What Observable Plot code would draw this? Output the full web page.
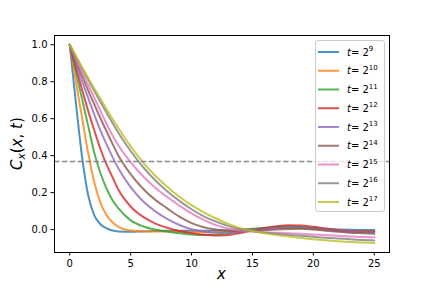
<!DOCTYPE html>
<html><head><meta charset="utf-8">
<script src="https://cdn.jsdelivr.net/npm/d3@7"></script>
<script src="https://cdn.jsdelivr.net/npm/@observablehq/plot@0.6"></script>
<style>body{margin:0;background:#fff} svg{font-family:"DejaVu Sans",sans-serif}</style>
</head><body><div id="chart"></div>
<script>
const xs = [0,0.5,1,1.5,2,2.5,3,3.5,4,5,6,7,8,9,10,11,12,13,14,15,16,17,18,19,20,21,22,23,24,25];
const exponents = [9,10,11,12,13,14,15,16,17];
const c9  = [1,0.69,0.4,0.19,0.08,0.03,0.008,-0.005,-0.01,-0.012,-0.01,-0.008,-0.006,-0.006,-0.006,-0.006,-0.005,-0.003,0.0,0.004,0.008,0.011,0.012,0.011,0.008,0.004,0.001,-0.001,-0.002,-0.002];
const c10 = [1,0.805,0.61,0.42,0.26,0.15,0.08,0.04,0.015,-0.005,-0.009,-0.01,-0.01,-0.012,-0.014,-0.015,-0.013,-0.008,-0.003,0.002,0.006,0.009,0.01,0.008,0.004,0.0,-0.004,-0.007,-0.009,-0.01];
const c11 = [1,0.855,0.71,0.565,0.42,0.31,0.225,0.16,0.115,0.05,0.018,0.0,-0.011,-0.02,-0.026,-0.029,-0.027,-0.02,-0.01,0.0,0.008,0.014,0.016,0.014,0.008,0.0,-0.006,-0.01,-0.011,-0.011];
const c12 = [1,0.88,0.76,0.645,0.54,0.44,0.355,0.285,0.215,0.125,0.07,0.034,0.01,-0.008,-0.02,-0.028,-0.032,-0.029,-0.018,-0.005,0.008,0.018,0.023,0.022,0.015,0.006,-0.002,-0.007,-0.01,-0.011];
const c13 = [1,0.9,0.805,0.715,0.625,0.54,0.465,0.395,0.33,0.23,0.155,0.1,0.058,0.025,0.002,-0.011,-0.016,-0.015,-0.01,-0.004,0.002,0.008,0.01,0.01,0.006,0.0,-0.006,-0.01,-0.013,-0.015];
const c14 = [1,0.915,0.835,0.755,0.68,0.605,0.535,0.465,0.4,0.3,0.222,0.162,0.115,0.07,0.035,0.013,0.0,-0.007,-0.009,-0.008,-0.004,0.0,0.003,0.004,0.0,-0.006,-0.012,-0.017,-0.02,-0.023];
const c15 = [1,0.927,0.855,0.785,0.715,0.645,0.575,0.51,0.455,0.365,0.29,0.228,0.176,0.13,0.088,0.052,0.024,0.006,-0.005,-0.01,-0.014,-0.017,-0.02,-0.022,-0.026,-0.03,-0.034,-0.037,-0.04,-0.042];
const c16 = [1,0.937,0.875,0.813,0.752,0.693,0.635,0.578,0.523,0.425,0.34,0.268,0.207,0.155,0.11,0.072,0.043,0.02,0.003,-0.009,-0.017,-0.023,-0.029,-0.034,-0.039,-0.044,-0.048,-0.052,-0.056,-0.059];
const c17 = [1,0.94,0.88,0.822,0.765,0.71,0.655,0.6,0.548,0.45,0.365,0.293,0.232,0.178,0.132,0.093,0.06,0.03,0.008,-0.008,-0.02,-0.03,-0.038,-0.045,-0.052,-0.058,-0.063,-0.067,-0.07,-0.072];
const series = [c9,c10,c11,c12,c13,c14,c15,c16,c17];
const colors = ["#1f77b4","#ff7f0e","#2ca02c","#d62728","#9467bd","#8c564b","#e377c2","#7f7f7f","#bcbd22"];
const xTicks = [0,5,10,15,20,25];
const yTicks = [0,0.2,0.4,0.6,0.8,1.0];
const threshold = [0.3679];

const data = series.flatMap((ys,i)=>ys.map((y,j)=>({x:xs[j], y, t:exponents[i]})));

const chart = Plot.plot({
  width:432, height:288,
  marginLeft:54, marginRight:43, marginTop:35, marginBottom:36,
  style:{fontFamily:"DejaVu Sans", fontSize:"10px", background:"white", color:"black"},
  x:{domain:[-1.25,26.25]},
  y:{domain:[-0.124,1.05]},
  color:{domain:exponents, range:colors},
  marks:[
    Plot.line(data,{x:"x", y:"y", z:"t", stroke:"t", strokeWidth:2, strokeOpacity:0.8, curve:"monotone-x"}),
    Plot.ruleY(threshold,{stroke:"gray", strokeWidth:1.5, strokeDasharray:"5.5,2.4", strokeOpacity:0.9}),
    Plot.frame({stroke:"black", strokeWidth:1}),
    Plot.axisX({ticks:xTicks, tickSize:3.5, tickPadding:3.5, label:null, tickFormat:d=>String(d), fontSize:10}),
    Plot.axisY({ticks:yTicks, tickSize:3.5, tickPadding:3.5, label:null, tickFormat:d=>d.toFixed(1), fontSize:10})
  ]
});
document.getElementById("chart").appendChild(chart);

const svg = d3.select(chart);
// axis labels
svg.append("text").attr("x",221.5).attr("y",279).attr("text-anchor","middle")
  .attr("font-size",15).attr("font-style","italic").attr("fill","black").text("x");
const yl = svg.append("text").attr("transform","translate(22,143.5) rotate(-90)")
  .attr("text-anchor","middle").attr("font-size",15).attr("fill","black");
yl.append("tspan").attr("font-style","italic").text("C");
yl.append("tspan").attr("font-style","italic").attr("font-size",10.5).attr("dy",3).text("x");
yl.append("tspan").attr("dy",-3).text("(");
yl.append("tspan").attr("font-style","italic").text("x");
yl.append("tspan").text(", ");
yl.append("tspan").attr("font-style","italic").text("t");
yl.append("tspan").text(")");

// legend
const lg = svg.append("g").attr("text-anchor","start");
lg.append("rect").attr("x",315.5).attr("y",40.5).attr("width",69).attr("height",171)
  .attr("rx",2.5).attr("fill","white").attr("fill-opacity",0.8).attr("stroke","#cccccc");
exponents.forEach((e,i)=>{
  const cy = 52 + i*18.75;
  lg.append("line").attr("x1",318).attr("x2",339).attr("y1",cy).attr("y2",cy)
    .attr("stroke",colors[i]).attr("stroke-width",2).attr("stroke-opacity",0.8);
  const t = lg.append("text").attr("x",347).attr("y",cy+3.5).attr("font-size",10)
    .attr("fill","black").attr("text-anchor","start");
  t.append("tspan").attr("font-style","italic").text("t");
  t.append("tspan").text("= 2");
  t.append("tspan").attr("font-size",7).attr("dy",-4.5).text(String(e));
});
</script>
</body></html>
